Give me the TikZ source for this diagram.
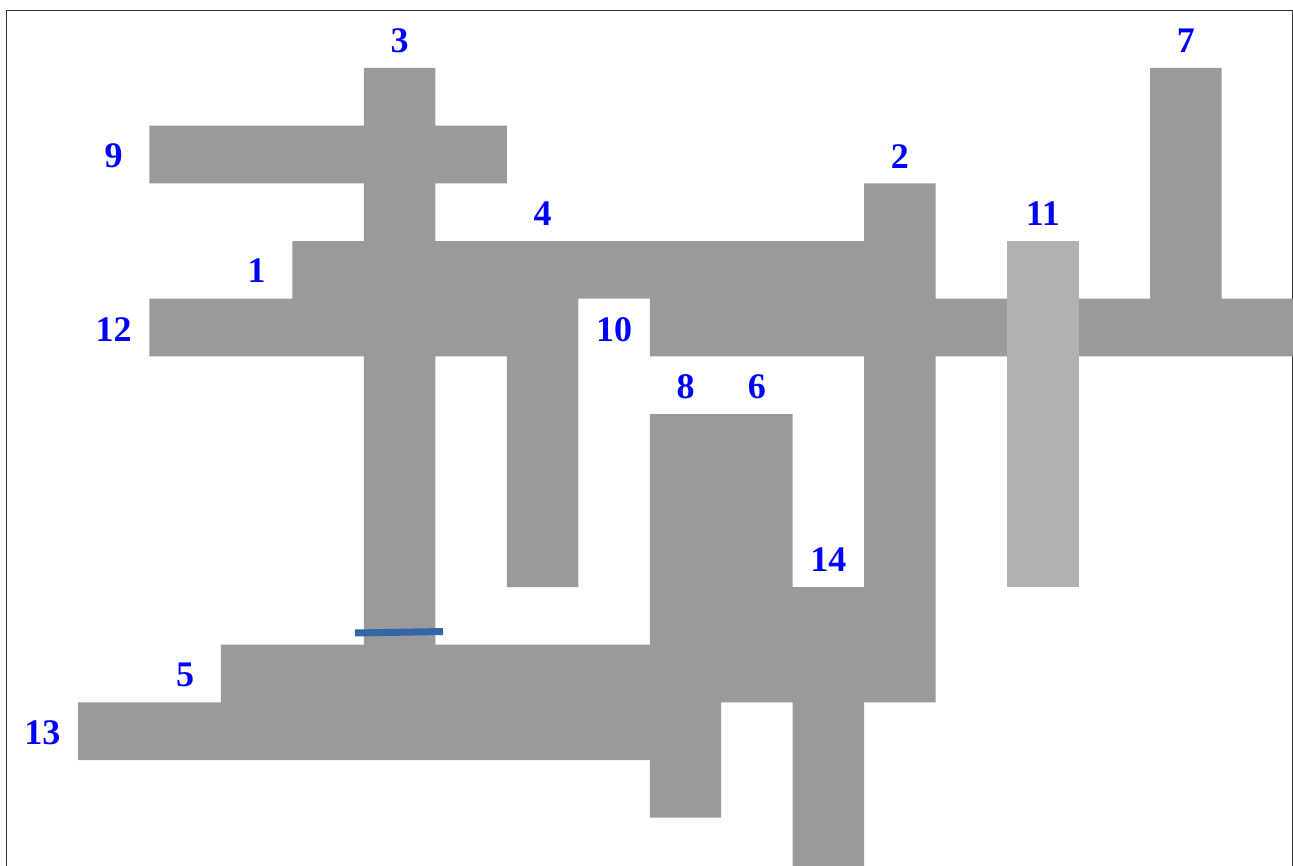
\documentclass[tikz,border=0pt]{standalone}
\usepackage{fontspec}
\setmainfont{Liberation Serif}
\definecolor{blockgray}{RGB}{154,154,154}
\definecolor{lightgray}{RGB}{177,177,177}
\definecolor{labelblue}{RGB}{0,0,255}
\definecolor{markblue}{RGB}{52,101,164}
\definecolor{framegray}{RGB}{50,50,50}
\tikzset{
  lbl/.style={text=labelblue, font=\fontsize{36}{36}\selectfont\bfseries, inner sep=0pt},
  block/.style={fill=blockgray},
  lightblock/.style={fill=lightgray},
  frameline/.style={draw=framegray, line width=1pt},
  marker/.style={draw=markblue, line width=7pt}
}
\begin{document}
\begin{tikzpicture}[x=71.47pt, y=-57.67pt]
\useasboundingbox (-0.0914,-0.1791) rectangle (18.0,14.837);
\clip (-0.0914,-0.1791) rectangle (18.0,14.837);
\fill[white] (-0.0914,-0.1791) rectangle (18.0,14.837);
% frame
\draw[frameline] (0.006,15.5) -- (0.006,0.003) -- (17.986,0.003) -- (17.986,15.5);
% dark blocks
\fill[block]
  (5,1) rectangle (6,11)
  (2,2) rectangle (7,3)
  (4,4) rectangle (12,5)
  (2,5) rectangle (8,6)
  (7,5) rectangle (8,10)
  (9,5) rectangle (18.2,6)
  (12,3) rectangle (13,12)
  (16,1) rectangle (17,5)
  (9,7) rectangle (11,12)
  (9,12) rectangle (10,14)
  (11,10) rectangle (13,12)
  (11,12) rectangle (12,15.5)
  (3,11) rectangle (9,12)
  (1,12) rectangle (10,13);
% light block
\fill[lightblock] (14,4) rectangle (15,10);
% marker
\coordinate (mA) at (4.876,10.797);
\coordinate (mB) at (6.107,10.771);
\draw[marker] (mA) -- (mB);
% labels
\node[lbl] (l3)  at (5.5,0.53)   {3};
\node[lbl] (l9)  at (1.5,2.53)   {9};
\node[lbl] (l1)  at (3.5,4.52)   {1};
\node[lbl] (l12) at (1.5,5.53)   {12};
\node[lbl] (l4)  at (7.5,3.53)   {4};
\node[lbl] (l2)  at (12.5,2.53)  {2};
\node[lbl] (l11) at (14.5,3.53)  {11};
\node[lbl] (l7)  at (16.5,0.53)  {7};
\node[lbl] (l10) at (8.5,5.53)   {10};
\node[lbl] (l8)  at (9.5,6.52)   {8};
\node[lbl] (l6)  at (10.5,6.52)  {6};
\node[lbl] (l14) at (11.5,9.52)  {14};
\node[lbl] (l5)  at (2.5,11.53)  {5};
\node[lbl] (l13) at (0.5,12.52)  {13};
\end{tikzpicture}
\end{document}
